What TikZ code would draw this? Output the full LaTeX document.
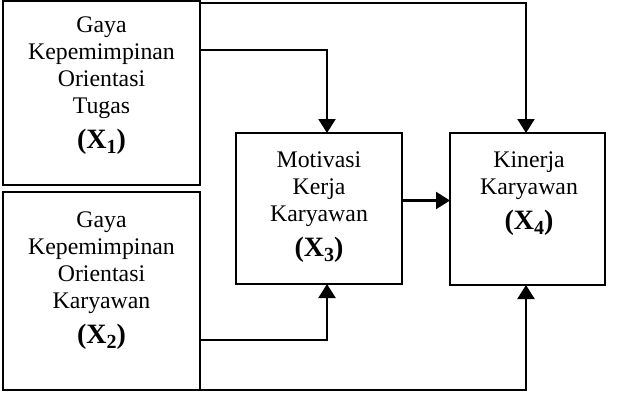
\documentclass[tikz,border=0pt]{standalone}
\usepackage{fontspec}
\setmainfont{Liberation Serif}
\usetikzlibrary{arrows.meta}
\begin{document}
\begin{tikzpicture}[x=1pt,y=-1pt,
  box/.style={draw,line width=2.2pt,inner sep=0pt,outer sep=0pt},
  txt/.style={anchor=base,inner sep=0pt,font=\fontsize{23.8}{27}\selectfont},
  lab/.style={anchor=base,inner sep=0pt,font=\fontsize{28}{30}\selectfont\bfseries},
  sub/.style={},
  arr/.style={line width=2.2pt,-{Triangle[length=14pt,width=17pt]}},
  ln/.style={line width=2.2pt}]
\newcommand{\xsub}[1]{\raisebox{-5pt}{\fontsize{20}{22}\selectfont\bfseries #1}}
\path[use as bounding box] (0,0) rectangle (622,402);
% boxes
\node[box,minimum width=197pt,minimum height=184pt] (x1) at (101.5,93) {};
\node[box,minimum width=197pt,minimum height=198pt] (x2) at (101.5,291) {};
\node[box,minimum width=166pt,minimum height=151pt] (x3) at (319,208.5) {};
\node[box,minimum width=155pt,minimum height=152pt] (x4) at (527.5,209) {};
% texts box 1
\node[txt] (a1) at (101.5,32) {Gaya};
\node[txt] (a2) at (101.5,59) {Kepemimpinan};
\node[txt] (a3) at (101.5,86) {Orientasi};
\node[txt] (a4) at (101.5,113) {Tugas};
\node[lab] (a5) at (101.5,148) {(X\xsub{1})};
% texts box 2
\node[txt] (b1) at (101.5,227) {Gaya};
\node[txt] (b2) at (101.5,254) {Kepemimpinan};
\node[txt] (b3) at (101.5,281) {Orientasi};
\node[txt] (b4) at (101.5,308) {Karyawan};
\node[lab] (b5) at (101.5,343) {(X\xsub{2})};
% texts box 3
\node[txt] (c1) at (319,167) {Motivasi};
\node[txt] (c2) at (319,194) {Kerja};
\node[txt] (c3) at (319,221) {Karyawan};
\node[lab] (c4) at (319,256) {(X\xsub{3})};
% texts box 4
\node[txt] (d1) at (529,167) {Kinerja};
\node[txt] (d2) at (529,194) {Karyawan};
\node[lab] (d3) at (529,229) {(X\xsub{4})};
% connectors
\draw[arr] ([yshift=-2pt]x1.north east) -| ([xshift=-1.5pt]x4.north);
\draw[arr] ([yshift=43pt]x1.east) -| ([xshift=8pt]x3.north);
\draw[arr] ([yshift=8pt]x3.east) -- ([yshift=8.5pt]x4.west);
\draw[arr] ([yshift=-49pt]x2.east) -| ([xshift=8pt]x3.south);
\draw[arr] (x2.south east) -| ([xshift=-1.5pt]x4.south);
\end{tikzpicture}
\end{document}
